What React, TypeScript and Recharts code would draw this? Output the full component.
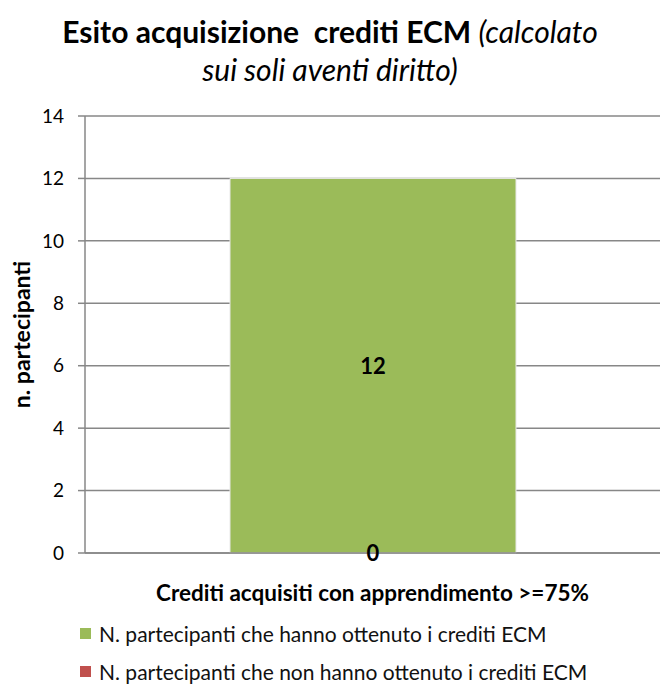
import { Bar, BarChart, CartesianGrid, LabelList, XAxis, YAxis } from "recharts";

const categories = ["Crediti acquisiti con apprendimento >=75%"];
const nonOttenuto = [0];
const ottenuto = [12];
const yTicks = [0, 2, 4, 6, 8, 10, 12, 14];

const seriesNames = [
  "N. partecipanti che hanno ottenuto i crediti ECM",
  "N. partecipanti che non hanno ottenuto i crediti ECM",
];
const green = "#9bbb59";
const red = "#c0504d";
const gridColor = "#878787";
const font = "Lato, 'Open Sans', sans-serif";

const data = categories.map((name, i) => ({
  name,
  ottenuto: ottenuto[i],
  nonOttenuto: nonOttenuto[i],
}));

const CategoryTick = ({ x, y, payload }: any) => (
  <text
    x={x}
    y={y + 40}
    textAnchor="middle"
    fontFamily={font}
    fontWeight={700}
    fontSize={22.5}
    fill="#000"
  >
    {payload.value}
  </text>
);

// label of the zero-height red segment, placed at the base of the stack
const BaseLabel = ({ x, y, width, height, value }: any) => (
  <text
    x={x + width / 2}
    y={y + height}
    dy={8}
    textAnchor="middle"
    fontFamily={font}
    fontWeight={700}
    fontSize={22}
    fill="#000"
  >
    {value}
  </text>
);

export default function App() {
  return (
    <div style={{ position: "absolute", left: 0, top: 0, width: 660, height: 684, background: "#fff", fontFamily: font }}>
      <div
        style={{
          position: "absolute",
          left: 0,
          top: 12,
          width: 660,
          textAlign: "center",
          fontSize: 30,
          lineHeight: "38px",
          color: "#000",
          whiteSpace: "pre",
        }}
      >
        <span style={{ fontWeight: 700 }}>Esito acquisizione  crediti ECM </span>
        <span style={{ fontStyle: "italic" }}>(calcolato</span>
        {"\n"}
        <span style={{ fontStyle: "italic" }}>sui soli aventi diritto)</span>
      </div>

      <BarChart
        width={660}
        height={684}
        data={data}
        margin={{ top: 116, right: 0, bottom: 0, left: 0 }}
      >
        <CartesianGrid vertical={false} stroke={gridColor} strokeWidth={1.5} />
        <XAxis
          dataKey="name"
          height={131}
          axisLine={{ stroke: gridColor, strokeWidth: 1.5 }}
          tickLine={false}
          tick={<CategoryTick />}
          interval={0}
        />
        <YAxis
          width={85}
          domain={[0, 14]}
          ticks={yTicks}
          interval={0}
          tickSize={7}
          tickMargin={14}
          axisLine={{ stroke: gridColor, strokeWidth: 1.5 }}
          tickLine={{ stroke: gridColor, strokeWidth: 1.5 }}
          tick={{ fontFamily: font, fontSize: 19, fill: "#000" }}
          label={{
            value: "n. partecipanti",
            angle: -90,
            position: "insideLeft",
            dx: 17,
            fontFamily: font,
            fontWeight: 700,
            fontSize: 23,
            fill: "#000",
            style: { textAnchor: "middle" },
          }}
        />
        <Bar dataKey="nonOttenuto" stackId="a" fill={red} barSize={286} isAnimationActive={false} />
        <Bar dataKey="ottenuto" stackId="a" fill={green} stroke="#e8e8e8" barSize={286} isAnimationActive={false}>
          <LabelList dataKey="ottenuto" position="center" fontFamily={font} fontWeight={700} fontSize={22} fill="#000" />
          <LabelList dataKey="nonOttenuto" content={<BaseLabel />} />
        </Bar>
      </BarChart>

      {seriesNames.map((name, i) => (
        <div
          key={name}
          style={{
            position: "absolute",
            left: 80,
            top: 620 + i * 38,
            height: 26,
            display: "flex",
            alignItems: "center",
            fontSize: 21,
            color: "#111",
            whiteSpace: "nowrap",
          }}
        >
          <span style={{ display: "inline-block", width: 11, height: 11, background: i === 0 ? green : red, marginRight: 8 }} />
          {name}
        </div>
      ))}
    </div>
  );
}
